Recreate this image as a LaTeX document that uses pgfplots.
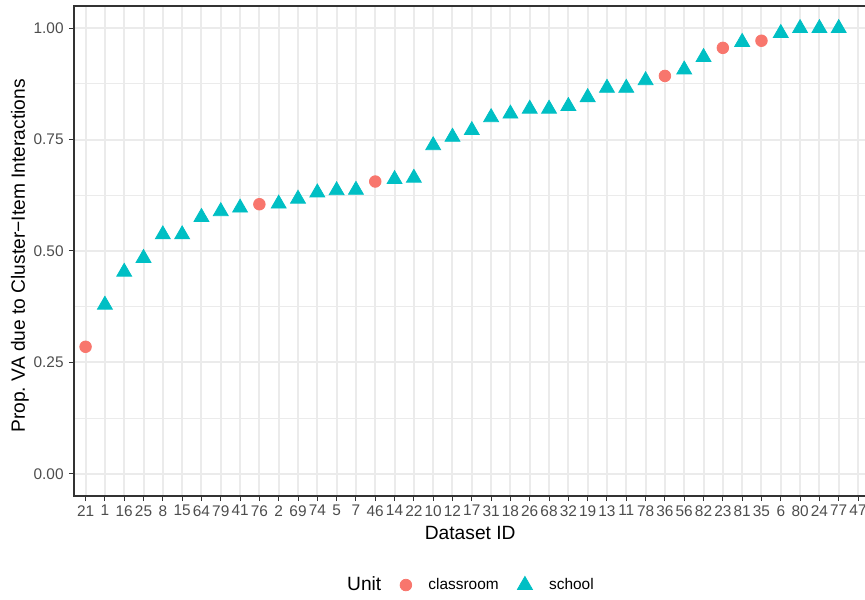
\documentclass[border=0pt]{standalone}
\usepackage{pgfplots}
\pgfplotsset{compat=1.18}
\usepackage{pgfplotstable}
\usepackage{fontspec}
\setmainfont{Liberation Sans}
\definecolor{clsred}{HTML}{F8766D}
\definecolor{schcyan}{HTML}{00BFC4}
\definecolor{gridgrey}{HTML}{EBEBEB}
\definecolor{grey20}{HTML}{333333}
\definecolor{grey30}{HTML}{4D4D4D}

\pgfplotstableread{
x y
0 0.285
9 0.605
15 0.656
30 0.893
33 0.956
35 0.972
}\classroom

\pgfplotstableread{
x y
1 0.379
2 0.453
3 0.484
4 0.537
5 0.537
6 0.576
7 0.589
8 0.597
10 0.606
11 0.617
12 0.631
13 0.636
14 0.637
16 0.661
17 0.664
18 0.737
19 0.756
20 0.771
21 0.800
22 0.808
23 0.819
24 0.819
25 0.825
26 0.845
27 0.866
28 0.866
29 0.883
31 0.907
32 0.935
34 0.969
36 0.989
37 1.000
38 1.000
39 1.000
}\school

\begin{document}
\begin{tikzpicture}
\begin{axis}[
  at={(0,0)}, anchor=south west,
  scale only axis,
  width=397.8pt, height=245pt,
  xmin=-0.6, xmax=40.6,
  ymin=-0.05, ymax=1.05,
  xtick={0,...,40},
  xticklabels={21,1,16,25,8,15,64,79,41,76,2,69,74,5,7,46,14,22,10,12,17,31,18,26,68,32,19,13,11,78,36,56,82,23,81,35,6,80,24,77,47},
  ytick={0,0.25,0.5,0.75,1},
  yticklabels={0.00,0.25,0.50,0.75,1.00},
  minor ytick={0.125,0.375,0.625,0.875},
  /pgf/number format/assume math mode=true,
  grid=both,
  major grid style={draw=gridgrey, line width=1pt},
  minor grid style={draw=gridgrey, line width=0.5pt},
  axis line style={draw=grey20, line width=0.6pt},
  tick align=outside,
  major tick length=2.5pt,
  minor tick length=0pt,
  tick style={draw=grey20, line width=0.5pt},
  xticklabel style={font=\fontsize{7.7}{9}\selectfont, text=grey30, inner sep=0pt, anchor=north, yshift=-2pt},
  yticklabel style={font=\fontsize{7.7}{9}\selectfont, text=grey30, inner sep=0pt, anchor=east, xshift=-2.5pt},
  xtick pos=bottom, ytick pos=left,
  xlabel={Dataset ID},
  ylabel={Prop.\ VA due to Cluster−Item Interactions},
  xlabel style={font=\fontsize{9.6}{11}\selectfont, at={(axis description cs:0.498,-0.0755)}, anchor=center},
  ylabel style={font=\fontsize{9.6}{11}\selectfont, at={(axis description cs:-0.0679,0.49)}, anchor=center, rotate=0},
  legend image code/.code={\draw[#1] plot coordinates {(0pt,0pt)};},
  legend style={at={(axis description cs:0.4877,-0.1816)}, anchor=center, draw=none, fill=none,
    legend columns=-1, font=\fontsize{7.7}{9}\selectfont,
    nodes={inner sep=0pt},
    /tikz/every even column/.append style={column sep=9.4pt},
    /tikz/every odd column/.append style={column sep=8.4pt}},
  clip=false,
]
\addlegendimage{empty legend}
\addlegendentry{\fontsize{9.6}{11}\selectfont Unit}
\addplot[clsred, only marks, mark=*, mark size=2.9pt, mark options={draw=clsred, fill=clsred}] table[x=x, y=y] {\classroom};
\addlegendentry{classroom}
\addplot[schcyan, only marks, mark=triangle*, mark size=4.3pt, mark options={draw=schcyan, fill=schcyan}] table[x=x, y=y] {\school};
\addlegendentry{school}
\end{axis}
\pgfresetboundingbox
\useasboundingbox (-37pt,-51.5pt) rectangle (395.5pt,248pt);
\end{tikzpicture}
\end{document}
